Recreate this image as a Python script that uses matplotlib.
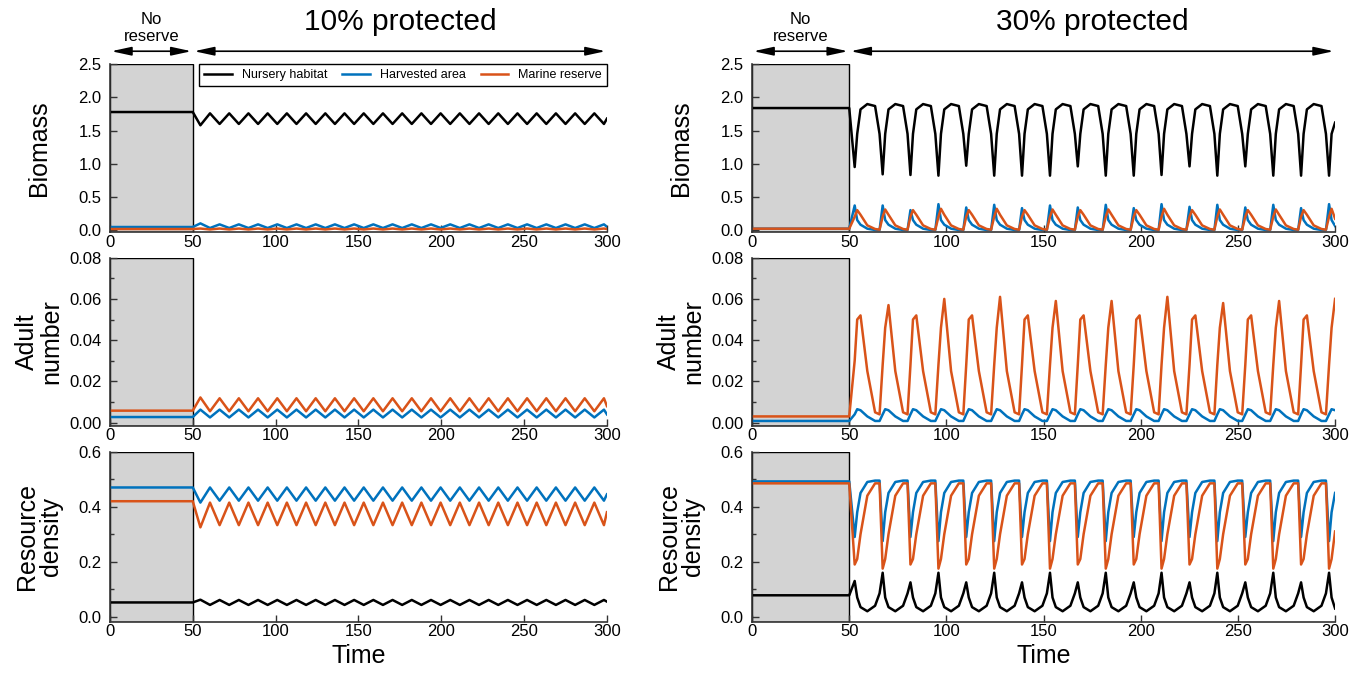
import matplotlib
matplotlib.use("Agg")
import matplotlib.pyplot as plt
import matplotlib.transforms as mtransforms
from matplotlib.ticker import MultipleLocator, FormatStrFormatter

plt.rcParams['font.family'] = ['Liberation Sans', 'DejaVu Sans']

# ---------------- 10% protected (left column) ----------------
t_10 = [0, 50,
    54.6, 60.4, 66.2, 72.0, 77.8, 83.6, 89.4, 95.2, 101.0, 106.8,
    112.6, 118.4, 124.2, 130.0, 135.8, 141.6, 147.4, 153.2, 159.0, 164.8,
    170.6, 176.4, 182.2, 188.0, 193.8, 199.6, 205.4, 211.2, 217.0, 222.8,
    228.6, 234.4, 240.2, 246.0, 251.8, 257.6, 263.4, 269.2, 275.0, 280.8,
    286.6, 292.4, 298.2, 300.0]

bio_nursery_10 = [1.78, 1.78,
    1.58, 1.76, 1.60, 1.76, 1.60, 1.76, 1.60, 1.76, 1.60, 1.76,
    1.60, 1.76, 1.60, 1.76, 1.60, 1.76, 1.60, 1.76, 1.60, 1.76,
    1.60, 1.76, 1.60, 1.76, 1.60, 1.76, 1.60, 1.76, 1.60, 1.76,
    1.60, 1.76, 1.60, 1.76, 1.60, 1.76, 1.60, 1.76, 1.60, 1.76,
    1.60, 1.76, 1.60, 1.68]
bio_harvest_10 = [0.045, 0.045,
    0.10, 0.03, 0.085, 0.03, 0.085, 0.03, 0.085, 0.03, 0.085, 0.03,
    0.085, 0.03, 0.085, 0.03, 0.085, 0.03, 0.085, 0.03, 0.085, 0.03,
    0.085, 0.03, 0.085, 0.03, 0.085, 0.03, 0.085, 0.03, 0.085, 0.03,
    0.085, 0.03, 0.085, 0.03, 0.085, 0.03, 0.085, 0.03, 0.085, 0.03,
    0.085, 0.03, 0.085, 0.05]
bio_reserve_10 = [0.015, 0.015,
    0.022, 0.008, 0.022, 0.008, 0.022, 0.008, 0.022, 0.008, 0.022, 0.008,
    0.022, 0.008, 0.022, 0.008, 0.022, 0.008, 0.022, 0.008, 0.022, 0.008,
    0.022, 0.008, 0.022, 0.008, 0.022, 0.008, 0.022, 0.008, 0.022, 0.008,
    0.022, 0.008, 0.022, 0.008, 0.022, 0.008, 0.022, 0.008, 0.022, 0.008,
    0.022, 0.008, 0.022, 0.015]

adult_harvest_10 = [0.0027, 0.0027,
    0.0063, 0.0025, 0.0063, 0.0025, 0.0063, 0.0025, 0.0063, 0.0025, 0.0063, 0.0025,
    0.0063, 0.0025, 0.0063, 0.0025, 0.0063, 0.0025, 0.0063, 0.0025, 0.0063, 0.0025,
    0.0063, 0.0025, 0.0063, 0.0025, 0.0063, 0.0025, 0.0063, 0.0025, 0.0063, 0.0025,
    0.0063, 0.0025, 0.0063, 0.0025, 0.0063, 0.0025, 0.0063, 0.0025, 0.0063, 0.0025,
    0.0063, 0.0025, 0.0063, 0.0040]
adult_reserve_10 = [0.0058, 0.0058,
    0.0122, 0.0055, 0.0118, 0.0055, 0.0118, 0.0055, 0.0118, 0.0055, 0.0118, 0.0055,
    0.0118, 0.0055, 0.0118, 0.0055, 0.0118, 0.0055, 0.0118, 0.0055, 0.0118, 0.0055,
    0.0118, 0.0055, 0.0118, 0.0055, 0.0118, 0.0055, 0.0118, 0.0055, 0.0118, 0.0055,
    0.0118, 0.0055, 0.0118, 0.0055, 0.0118, 0.0055, 0.0118, 0.0055, 0.0118, 0.0055,
    0.0118, 0.0055, 0.0118, 0.0080]

res_nursery_10 = [0.052, 0.052,
    0.062, 0.043, 0.061, 0.043, 0.061, 0.043, 0.061, 0.043, 0.061, 0.043,
    0.061, 0.043, 0.061, 0.043, 0.061, 0.043, 0.061, 0.043, 0.061, 0.043,
    0.061, 0.043, 0.061, 0.043, 0.061, 0.043, 0.061, 0.043, 0.061, 0.043,
    0.061, 0.043, 0.061, 0.043, 0.061, 0.043, 0.061, 0.043, 0.061, 0.043,
    0.061, 0.043, 0.061, 0.055]
res_harvest_10 = [0.47, 0.47,
    0.415, 0.47, 0.422, 0.47, 0.422, 0.47, 0.422, 0.47, 0.422, 0.47,
    0.422, 0.47, 0.422, 0.47, 0.422, 0.47, 0.422, 0.47, 0.422, 0.47,
    0.422, 0.47, 0.422, 0.47, 0.422, 0.47, 0.422, 0.47, 0.422, 0.47,
    0.422, 0.47, 0.422, 0.47, 0.422, 0.47, 0.422, 0.47, 0.422, 0.47,
    0.422, 0.47, 0.422, 0.445]
res_reserve_10 = [0.42, 0.42,
    0.325, 0.415, 0.333, 0.415, 0.333, 0.415, 0.333, 0.415, 0.333, 0.415,
    0.333, 0.415, 0.333, 0.415, 0.333, 0.415, 0.333, 0.415, 0.333, 0.415,
    0.333, 0.415, 0.333, 0.415, 0.333, 0.415, 0.333, 0.415, 0.333, 0.415,
    0.333, 0.415, 0.333, 0.415, 0.333, 0.415, 0.333, 0.415, 0.333, 0.415,
    0.333, 0.415, 0.333, 0.38]

# ---------------- 30% protected (right column) ----------------
t_30 = [0, 50,
    52.8, 54.1, 55.8, 59.3, 63.3, 65.6,
    67.2, 68.5, 70.2, 73.7, 77.7, 80.0,
    81.5, 82.8, 84.5, 88.0, 92.0, 94.3,
    95.9, 97.2, 98.9, 102.4, 106.4, 108.7,
    110.2, 111.5, 113.2, 116.7, 120.7, 123.0,
    124.6, 125.9, 127.6, 131.1, 135.1, 137.4,
    138.9, 140.2, 141.9, 145.4, 149.4, 151.7,
    153.3, 154.6, 156.3, 159.8, 163.8, 166.1,
    167.6, 168.9, 170.6, 174.1, 178.1, 180.4,
    182.0, 183.3, 185.0, 188.5, 192.5, 194.8,
    196.4, 197.7, 199.4, 202.9, 206.9, 209.2,
    210.7, 212.0, 213.7, 217.2, 221.2, 223.5,
    225.1, 226.4, 228.1, 231.6, 235.6, 237.9,
    239.4, 240.7, 242.4, 245.9, 249.9, 252.2,
    253.8, 255.1, 256.8, 260.3, 264.3, 266.6,
    268.2, 269.5, 271.2, 274.7, 278.7, 281.0,
    282.5, 283.8, 285.5, 289.0, 293.0, 295.3,
    296.9, 298.2, 300.0]

bio_nursery_30 = [1.84, 1.84,
    0.95, 1.45, 1.82, 1.90, 1.87, 1.45,
    0.84, 1.45, 1.82, 1.90, 1.87, 1.45,
    0.83, 1.45, 1.82, 1.90, 1.87, 1.45,
    0.82, 1.45, 1.82, 1.90, 1.87, 1.45,
    0.97, 1.45, 1.82, 1.90, 1.87, 1.45,
    0.82, 1.45, 1.82, 1.90, 1.87, 1.45,
    0.82, 1.45, 1.82, 1.90, 1.87, 1.45,
    0.82, 1.45, 1.82, 1.90, 1.87, 1.45,
    0.96, 1.45, 1.82, 1.90, 1.87, 1.45,
    0.82, 1.45, 1.82, 1.90, 1.87, 1.45,
    0.82, 1.45, 1.82, 1.90, 1.87, 1.45,
    0.83, 1.45, 1.82, 1.90, 1.87, 1.45,
    0.96, 1.45, 1.82, 1.90, 1.87, 1.45,
    0.82, 1.45, 1.82, 1.90, 1.87, 1.45,
    0.96, 1.45, 1.82, 1.90, 1.87, 1.45,
    0.82, 1.45, 1.82, 1.90, 1.87, 1.45,
    0.82, 1.45, 1.82, 1.90, 1.87, 1.45,
    0.82, 1.45, 1.62]
bio_harvest_30 = [0.02, 0.02,
    0.37, 0.15, 0.08, 0.02, 0.0, 0.0,
    0.37, 0.15, 0.08, 0.02, 0.0, 0.0,
    0.30, 0.15, 0.08, 0.02, 0.0, 0.0,
    0.39, 0.15, 0.08, 0.02, 0.0, 0.0,
    0.34, 0.15, 0.08, 0.02, 0.0, 0.0,
    0.38, 0.15, 0.08, 0.02, 0.0, 0.0,
    0.33, 0.15, 0.08, 0.02, 0.0, 0.0,
    0.37, 0.15, 0.08, 0.02, 0.0, 0.0,
    0.34, 0.15, 0.08, 0.02, 0.0, 0.0,
    0.38, 0.15, 0.08, 0.02, 0.0, 0.0,
    0.33, 0.15, 0.08, 0.02, 0.0, 0.0,
    0.39, 0.15, 0.08, 0.02, 0.0, 0.0,
    0.35, 0.15, 0.08, 0.02, 0.0, 0.0,
    0.38, 0.15, 0.08, 0.02, 0.0, 0.0,
    0.34, 0.15, 0.08, 0.02, 0.0, 0.0,
    0.38, 0.15, 0.08, 0.02, 0.0, 0.0,
    0.33, 0.15, 0.08, 0.02, 0.0, 0.0,
    0.39, 0.15, 0.06]
bio_reserve_30 = [0.02, 0.02,
    0.20, 0.30, 0.23, 0.07, 0.015, 0.005,
    0.20, 0.31, 0.23, 0.07, 0.015, 0.005,
    0.20, 0.30, 0.23, 0.07, 0.015, 0.005,
    0.20, 0.32, 0.23, 0.07, 0.015, 0.005,
    0.20, 0.30, 0.23, 0.07, 0.015, 0.005,
    0.20, 0.32, 0.23, 0.07, 0.015, 0.005,
    0.20, 0.30, 0.23, 0.07, 0.015, 0.005,
    0.20, 0.31, 0.23, 0.07, 0.015, 0.005,
    0.20, 0.30, 0.23, 0.07, 0.015, 0.005,
    0.20, 0.31, 0.23, 0.07, 0.015, 0.005,
    0.20, 0.30, 0.23, 0.07, 0.015, 0.005,
    0.20, 0.32, 0.23, 0.07, 0.015, 0.005,
    0.20, 0.30, 0.23, 0.07, 0.015, 0.005,
    0.20, 0.31, 0.23, 0.07, 0.015, 0.005,
    0.20, 0.30, 0.23, 0.07, 0.015, 0.005,
    0.20, 0.31, 0.23, 0.07, 0.015, 0.005,
    0.20, 0.30, 0.23, 0.07, 0.015, 0.005,
    0.20, 0.32, 0.17]

adult_harvest_30 = [0.0008, 0.0008,
    0.004, 0.0065, 0.006, 0.003, 0.0008, 0.0008,
    0.004, 0.0065, 0.006, 0.003, 0.0008, 0.0008,
    0.004, 0.0065, 0.006, 0.003, 0.0008, 0.0008,
    0.004, 0.0065, 0.006, 0.003, 0.0008, 0.0008,
    0.004, 0.0065, 0.006, 0.003, 0.0008, 0.0008,
    0.004, 0.0065, 0.006, 0.003, 0.0008, 0.0008,
    0.004, 0.0065, 0.006, 0.003, 0.0008, 0.0008,
    0.004, 0.0065, 0.006, 0.003, 0.0008, 0.0008,
    0.004, 0.0065, 0.006, 0.003, 0.0008, 0.0008,
    0.004, 0.0065, 0.006, 0.003, 0.0008, 0.0008,
    0.004, 0.0065, 0.006, 0.003, 0.0008, 0.0008,
    0.004, 0.0065, 0.006, 0.003, 0.0008, 0.0008,
    0.004, 0.0065, 0.006, 0.003, 0.0008, 0.0008,
    0.004, 0.0065, 0.006, 0.003, 0.0008, 0.0008,
    0.004, 0.0065, 0.006, 0.003, 0.0008, 0.0008,
    0.004, 0.0065, 0.006, 0.003, 0.0008, 0.0008,
    0.004, 0.0065, 0.006, 0.003, 0.0008, 0.0008,
    0.004, 0.0065, 0.006]
adult_reserve_30 = [0.003, 0.003,
    0.030, 0.050, 0.052, 0.025, 0.005, 0.004,
    0.028, 0.046, 0.057, 0.025, 0.005, 0.004,
    0.028, 0.050, 0.052, 0.025, 0.005, 0.004,
    0.028, 0.046, 0.060, 0.025, 0.005, 0.004,
    0.028, 0.050, 0.052, 0.025, 0.005, 0.004,
    0.028, 0.046, 0.061, 0.025, 0.005, 0.004,
    0.028, 0.050, 0.052, 0.025, 0.005, 0.004,
    0.028, 0.046, 0.059, 0.025, 0.005, 0.004,
    0.028, 0.050, 0.052, 0.025, 0.005, 0.004,
    0.028, 0.046, 0.059, 0.025, 0.005, 0.004,
    0.028, 0.050, 0.052, 0.025, 0.005, 0.004,
    0.028, 0.046, 0.061, 0.025, 0.005, 0.004,
    0.028, 0.050, 0.052, 0.025, 0.005, 0.004,
    0.028, 0.046, 0.058, 0.025, 0.005, 0.004,
    0.028, 0.050, 0.052, 0.025, 0.005, 0.004,
    0.028, 0.046, 0.059, 0.025, 0.005, 0.004,
    0.028, 0.050, 0.052, 0.025, 0.005, 0.004,
    0.028, 0.046, 0.060]

res_nursery_30 = [0.078, 0.078,
    0.130, 0.07, 0.035, 0.02, 0.04, 0.085,
    0.160, 0.07, 0.035, 0.02, 0.04, 0.085,
    0.125, 0.07, 0.035, 0.02, 0.04, 0.085,
    0.160, 0.07, 0.035, 0.02, 0.04, 0.085,
    0.125, 0.07, 0.035, 0.02, 0.04, 0.085,
    0.160, 0.07, 0.035, 0.02, 0.04, 0.085,
    0.125, 0.07, 0.035, 0.02, 0.04, 0.085,
    0.160, 0.07, 0.035, 0.02, 0.04, 0.085,
    0.125, 0.07, 0.035, 0.02, 0.04, 0.085,
    0.160, 0.07, 0.035, 0.02, 0.04, 0.085,
    0.125, 0.07, 0.035, 0.02, 0.04, 0.085,
    0.160, 0.07, 0.035, 0.02, 0.04, 0.085,
    0.125, 0.07, 0.035, 0.02, 0.04, 0.085,
    0.160, 0.07, 0.035, 0.02, 0.04, 0.085,
    0.125, 0.07, 0.035, 0.02, 0.04, 0.085,
    0.160, 0.07, 0.035, 0.02, 0.04, 0.085,
    0.125, 0.07, 0.035, 0.02, 0.04, 0.085,
    0.160, 0.07, 0.03]
res_harvest_30 = [0.492, 0.492,
    0.290, 0.38, 0.45, 0.49, 0.495, 0.495,
    0.275, 0.38, 0.45, 0.49, 0.495, 0.495,
    0.290, 0.38, 0.45, 0.49, 0.495, 0.495,
    0.275, 0.38, 0.45, 0.49, 0.495, 0.495,
    0.290, 0.38, 0.45, 0.49, 0.495, 0.495,
    0.275, 0.38, 0.45, 0.49, 0.495, 0.495,
    0.290, 0.38, 0.45, 0.49, 0.495, 0.495,
    0.275, 0.38, 0.45, 0.49, 0.495, 0.495,
    0.290, 0.38, 0.45, 0.49, 0.495, 0.495,
    0.275, 0.38, 0.45, 0.49, 0.495, 0.495,
    0.290, 0.38, 0.45, 0.49, 0.495, 0.495,
    0.275, 0.38, 0.45, 0.49, 0.495, 0.495,
    0.290, 0.38, 0.45, 0.49, 0.495, 0.495,
    0.275, 0.38, 0.45, 0.49, 0.495, 0.495,
    0.290, 0.38, 0.45, 0.49, 0.495, 0.495,
    0.275, 0.38, 0.45, 0.49, 0.495, 0.495,
    0.290, 0.38, 0.45, 0.49, 0.495, 0.495,
    0.275, 0.38, 0.45]
res_reserve_30 = [0.485, 0.485,
    0.190, 0.21, 0.30, 0.44, 0.485, 0.485,
    0.175, 0.21, 0.30, 0.44, 0.485, 0.485,
    0.190, 0.21, 0.30, 0.44, 0.485, 0.485,
    0.175, 0.21, 0.30, 0.44, 0.485, 0.485,
    0.190, 0.21, 0.30, 0.44, 0.485, 0.485,
    0.175, 0.21, 0.30, 0.44, 0.485, 0.485,
    0.190, 0.21, 0.30, 0.44, 0.485, 0.485,
    0.175, 0.21, 0.30, 0.44, 0.485, 0.485,
    0.190, 0.21, 0.30, 0.44, 0.485, 0.485,
    0.175, 0.21, 0.30, 0.44, 0.485, 0.485,
    0.190, 0.21, 0.30, 0.44, 0.485, 0.485,
    0.175, 0.21, 0.30, 0.44, 0.485, 0.485,
    0.190, 0.21, 0.30, 0.44, 0.485, 0.485,
    0.175, 0.21, 0.30, 0.44, 0.485, 0.485,
    0.190, 0.21, 0.30, 0.44, 0.485, 0.485,
    0.175, 0.21, 0.30, 0.44, 0.485, 0.485,
    0.190, 0.21, 0.30, 0.44, 0.485, 0.485,
    0.175, 0.21, 0.31]

labels = ["Nursery habitat", "Harvested area", "Marine reserve"]
colors = ["black", "#0072BD", "#D95319"]
titles = ["10% protected", "30% protected"]
ylabels = ["Biomass", "Adult\nnumber", "Resource\ndensity"]

fig = plt.figure(figsize=(13.59, 6.74), dpi=100)

col_pos = [(0.0809, 0.3657), (0.5534, 0.429)]
row_pos = [(0.6558, 0.2488), (0.3684, 0.2493), (0.0776, 0.2522)]
ylims = [(-0.03, 2.5), (-0.0015, 0.08), (-0.018, 0.6)]
ymajor = [0.5, 0.02, 0.2]
yminor = [0.5, 0.01, 0.1]
yfmt = ["%.1f", "%.2f", "%.1f"]

columns = [
    (t_10, [[bio_nursery_10, bio_harvest_10, bio_reserve_10],
            [None, adult_harvest_10, adult_reserve_10],
            [res_nursery_10, res_harvest_10, res_reserve_10]]),
    (t_30, [[bio_nursery_30, bio_harvest_30, bio_reserve_30],
            [None, adult_harvest_30, adult_reserve_30],
            [res_nursery_30, res_harvest_30, res_reserve_30]]),
]

for c, (t, rows) in enumerate(columns):
    x0, w = col_pos[c]
    for r in range(3):
        y0, h = row_pos[r]
        ax = fig.add_axes([x0, y0, w, h])
        ax.axvspan(0, 50, facecolor="#d3d3d3", edgecolor="black", lw=1, zorder=0.5)
        for s in range(3):
            if rows[r][s] is not None:
                ax.plot(t, rows[r][s], color=colors[s], lw=1.8, label=labels[s], zorder=2)
        ax.set_xlim(0, 300)
        ax.set_ylim(*ylims[r])
        ax.xaxis.set_major_locator(MultipleLocator(50))
        ax.yaxis.set_major_locator(MultipleLocator(ymajor[r]))
        ax.yaxis.set_minor_locator(MultipleLocator(yminor[r]))
        ax.yaxis.set_major_formatter(FormatStrFormatter(yfmt[r]))
        for side in ["top", "right"]:
            ax.spines[side].set_visible(False)
        for side in ["left", "bottom"]:
            ax.spines[side].set_color("#333333")
            ax.spines[side].set_linewidth(1.2)
        ax.tick_params(axis="both", which="both", direction="in", width=1, colors="#333333",
                       labelcolor="black", labelsize=12)
        ax.tick_params(axis="both", which="major", length=5)
        ax.tick_params(axis="y", which="minor", length=3)
        ax.tick_params(axis="x", pad=2)
        ax.tick_params(axis="y", pad=6)
        lab_tr = mtransforms.offset_copy(ax.transAxes, fig=fig, x=-71, y=0, units="dots")
        ax.text(0, 0.5, ylabels[r], transform=lab_tr, rotation=90, ha="center", va="center",
                fontsize=18, linespacing=1.0, multialignment="center")
        if r == 2:
            ax.set_xlabel("Time", fontsize=18, labelpad=3)
        if r == 0:
            tr = mtransforms.blended_transform_factory(ax.transData, fig.transFigure)
            arrow = dict(arrowstyle="<|-|>,head_length=0.6,head_width=0.13", color="black",
                         lw=1.2, mutation_scale=20, shrinkA=1, shrinkB=1)
            ax.annotate("", xy=(0, 0.924), xytext=(50, 0.924), xycoords=tr, textcoords=tr,
                        arrowprops=arrow, annotation_clip=False)
            ax.annotate("", xy=(50, 0.924), xytext=(300, 0.924), xycoords=tr, textcoords=tr,
                        arrowprops=arrow, annotation_clip=False)
            ax.text(25, 0.935, "No\nreserve", transform=tr, ha="center", va="bottom",
                    fontsize=12, linespacing=1.15)
            ax.text(175, 0.968, titles[c], transform=tr, ha="center", va="center", fontsize=21.5)
            if c == 0:
                leg = ax.legend(loc="upper right", bbox_to_anchor=(1, 1), ncol=3, fontsize=9,
                                frameon=True, fancybox=False, edgecolor="black", framealpha=1,
                                borderaxespad=0, handlelength=2.2, columnspacing=1.2)
                leg.get_frame().set_linewidth(1)

plt.savefig("out.png", dpi=100)
